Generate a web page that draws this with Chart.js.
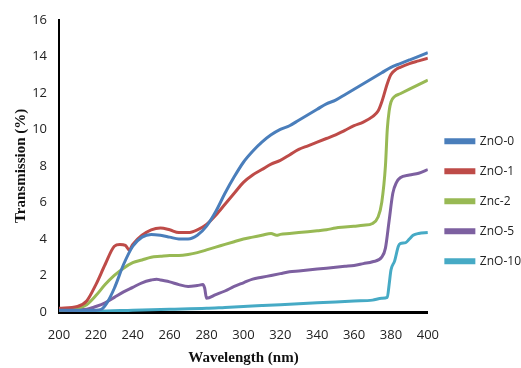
<!DOCTYPE html>
<html>
<head>
<meta charset="utf-8">
<script src="https://cdn.jsdelivr.net/npm/chart.js@4/dist/chart.umd.min.js"></script>
<style>
  html, body { margin: 0; padding: 0; background: #fff; }
  #wrap { width: 521px; height: 368px; }
</style>
</head>
<body>
<div id="wrap"><canvas id="myChart" width="521" height="368"></canvas></div>
<script>
// series names and colours
const seriesNames = ['ZnO-0', 'ZnO-1', 'Znc-2', 'ZnO-5', 'ZnO-10'];
const seriesColors = ['#4a7ebb', '#be4b48', '#98b954', '#7d60a0', '#46aac5'];

// wavelength (nm) samples for each series, and the transmission (%) values
const wl0 = [200, 210, 220, 223, 226, 230, 235, 240, 245, 250, 255, 260, 265, 270, 275, 280, 285, 290, 295, 300, 305, 310, 315, 320, 325, 330, 335, 340, 345, 350, 355, 360, 365, 370, 375, 380, 385, 390, 395, 400];
const zno0 = [0.1, 0.1, 0.1, 0.15, 0.5, 1.3, 2.6, 3.6, 4.1, 4.25, 4.2, 4.1, 4.0, 4.0, 4.2, 4.7, 5.5, 6.5, 7.4, 8.2, 8.8, 9.3, 9.7, 10.0, 10.2, 10.5, 10.8, 11.1, 11.4, 11.6, 11.9, 12.2, 12.5, 12.8, 13.1, 13.4, 13.6, 13.8, 14.0, 14.2];

const wl1 = [200, 210, 215, 220, 225, 230, 233, 236, 238, 240, 245, 250, 255, 260, 265, 270, 275, 280, 285, 290, 295, 300, 305, 310, 315, 320, 325, 330, 335, 340, 345, 350, 355, 360, 365, 370, 373, 375, 378, 380, 383, 385, 390, 395, 400];
const zno1 = [0.2, 0.3, 0.6, 1.5, 2.6, 3.6, 3.7, 3.65, 3.4, 3.7, 4.2, 4.5, 4.6, 4.5, 4.35, 4.35, 4.5, 4.8, 5.3, 5.9, 6.5, 7.1, 7.5, 7.8, 8.1, 8.3, 8.6, 8.9, 9.1, 9.3, 9.5, 9.7, 9.95, 10.2, 10.4, 10.7, 11.0, 11.5, 12.5, 13.0, 13.3, 13.4, 13.6, 13.75, 13.9];

const wl2 = [200, 210, 215, 220, 225, 230, 235, 240, 245, 250, 255, 260, 265, 270, 275, 280, 285, 290, 295, 300, 305, 310, 315, 318, 320, 325, 330, 335, 340, 345, 350, 355, 360, 365, 370, 373, 375, 377, 378, 379, 380, 382, 385, 390, 395, 400];
const znc2 = [0.1, 0.2, 0.4, 0.9, 1.5, 2.0, 2.4, 2.7, 2.85, 3.0, 3.05, 3.1, 3.1, 3.15, 3.25, 3.4, 3.55, 3.7, 3.85, 4.0, 4.1, 4.2, 4.3, 4.2, 4.25, 4.3, 4.35, 4.4, 4.45, 4.5, 4.6, 4.65, 4.7, 4.75, 4.85, 5.2, 6.0, 8.0, 10.0, 11.0, 11.5, 11.8, 11.95, 12.2, 12.45, 12.7];

const wl5 = [200, 215, 220, 225, 230, 235, 240, 245, 250, 253, 255, 260, 265, 270, 275, 278, 279, 280, 285, 290, 295, 300, 305, 310, 315, 320, 325, 330, 335, 340, 345, 350, 355, 360, 365, 370, 375, 377, 379, 381, 383, 385, 390, 395, 400];
const zno5 = [0.1, 0.15, 0.3, 0.5, 0.8, 1.1, 1.35, 1.6, 1.75, 1.8, 1.75, 1.65, 1.5, 1.4, 1.45, 1.5, 1.3, 0.75, 0.95, 1.15, 1.4, 1.6, 1.8, 1.9, 2.0, 2.1, 2.2, 2.25, 2.3, 2.35, 2.4, 2.45, 2.5, 2.55, 2.65, 2.75, 3.0, 3.5, 5.0, 6.5, 7.1, 7.35, 7.5, 7.6, 7.8];

const wl10 = [200, 220, 240, 260, 280, 290, 300, 310, 320, 340, 360, 370, 375, 378, 379, 380, 382, 384, 385, 388, 390, 392, 395, 400];
const zno10 = [0.05, 0.05, 0.1, 0.15, 0.2, 0.25, 0.3, 0.35, 0.4, 0.5, 0.6, 0.65, 0.75, 0.8, 1.5, 2.3, 2.8, 3.6, 3.75, 3.8, 4.0, 4.2, 4.3, 4.35];

const xTicks = [200, 220, 240, 260, 280, 300, 320, 340, 360, 380, 400];
const yTicks = [0, 2, 4, 6, 8, 10, 12, 14, 16];

const xs = [wl0, wl1, wl2, wl5, wl10];
const ys = [zno0, zno1, znc2, zno5, zno10];

const tickFont = { family: "'Open Sans', sans-serif", size: 13 };
const titleFont = { family: "'Liberation Serif', serif", size: 15, weight: 'bold' };

const datasets = seriesNames.map(function (name, i) {
    return {
        label: name,
        data: xs[i].map(function (x, j) { return { x: x, y: ys[i][j] }; }),
        borderColor: seriesColors[i],
        backgroundColor: seriesColors[i],
        borderWidth: 3,
        pointRadius: 0,
        cubicInterpolationMode: 'monotone'
    };
});

const ctx = document.getElementById('myChart');

var myChart = new Chart(ctx, {
    type: 'line',
    data: { datasets: datasets },
    options: {
        responsive: false,
        animation: false,
        layout: { padding: { top: 17, left: 12, right: -10, bottom: 1 } },
        plugins: {
            tooltip: { enabled: false },
            legend: {
                position: 'right',
                title: { display: true, text: '', padding: 2 },
                labels: {
                    boxWidth: 28,
                    boxHeight: 3,
                    padding: 18,
                    color: '#222',
                    font: { family: tickFont.family, size: 12 }
                }
            }
        },
        scales: {
            x: {
                type: 'linear',
                min: 200,
                max: 400,
                afterBuildTicks: function (scale) { scale.ticks = xTicks.map(function (v) { return { value: v }; }); },
                afterFit: function (scale) { scale.height = 55; },
                grid: { display: false, drawTicks: false },
                border: { color: '#000', width: 3 },
                ticks: { color: '#222', font: tickFont, padding: 15, maxRotation: 0 },
                title: { display: true, text: 'Wavelength (nm)', color: '#111', font: titleFont, padding: { top: 2, bottom: 0 } }
            },
            y: {
                min: 0,
                max: 16,
                afterBuildTicks: function (scale) { scale.ticks = yTicks.map(function (v) { return { value: v }; }); },
                afterFit: function (scale) { scale.width = 47; },
                grid: { display: false, drawTicks: false },
                border: { color: '#000', width: 2 },
                ticks: { color: '#222', font: tickFont, padding: 12 },
                title: { display: true, text: 'Transmission (%)', color: '#111', font: titleFont, padding: 0 }
            }
        }
    }
});
</script>
</body>
</html>
